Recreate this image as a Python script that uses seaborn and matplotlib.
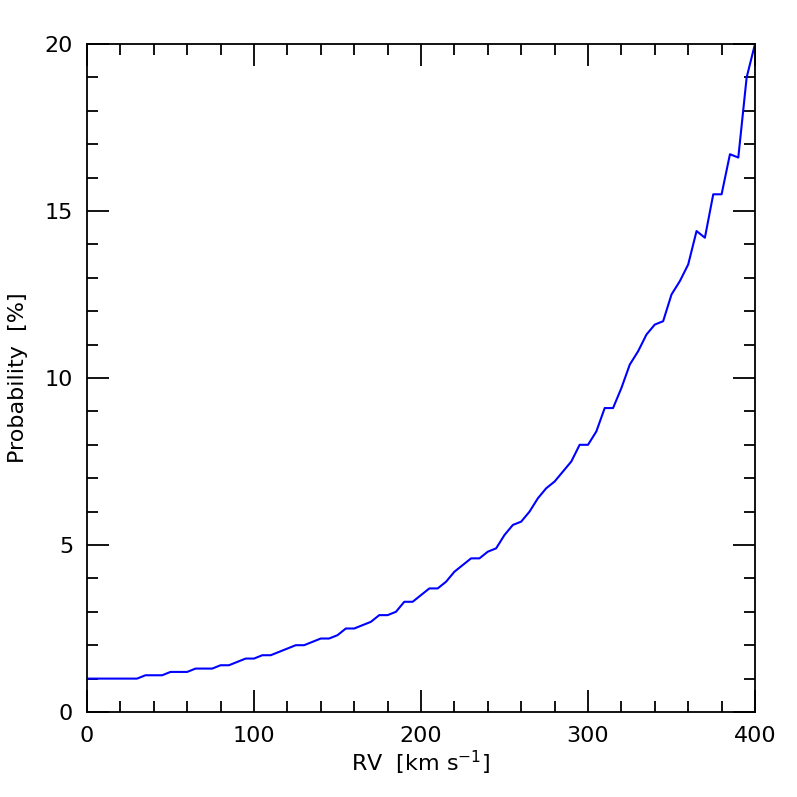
import numpy as np
import pandas as pd
import matplotlib
matplotlib.use("Agg")
import matplotlib.pyplot as plt
import seaborn as sns
from matplotlib.ticker import MultipleLocator

# RV grid in km/s (step 5) and probability in %
rv = list(range(0, 405, 5))
prob = [1.0, 1.0, 1.0, 1.0, 1.0, 1.0, 1.0, 1.1, 1.1, 1.1,   # 0-45
        1.2, 1.2, 1.2, 1.3, 1.3, 1.3, 1.4, 1.4, 1.5, 1.6,   # 50-95
        1.6, 1.7, 1.7, 1.8, 1.9, 2.0, 2.0, 2.1, 2.2, 2.2,   # 100-145
        2.3, 2.5, 2.5, 2.6, 2.7, 2.9, 2.9, 3.0, 3.3, 3.3,   # 150-195
        3.5, 3.7, 3.7, 3.9, 4.2, 4.4, 4.6, 4.6, 4.8, 4.9,   # 200-245
        5.3, 5.6, 5.7, 6.0, 6.4, 6.7, 6.9, 7.2, 7.5, 8.0,   # 250-295
        8.0, 8.4, 9.1, 9.1, 9.7, 10.4, 10.8, 11.3, 11.6, 11.7,  # 300-345
        12.5, 12.9, 13.4, 14.4, 14.2, 15.5, 15.5, 16.7, 16.6, 19.0,  # 350-395
        20.0]  # 400

df = pd.DataFrame({'rv': rv, 'prob': prob})

sns.set_style('ticks')
plt.rcParams['font.family'] = ['DejaVu Sans']

fig = plt.figure(figsize=(7.97, 7.97), dpi=100)
ax = fig.add_axes([87/797, 85/797, 668/797, 668/797])

sns.lineplot(x='rv', y='prob', data=df, color='#0000ff', linewidth=1.5, ax=ax)

ax.set_xlim(0, 400)
ax.set_ylim(0, 20)
ax.xaxis.set_major_locator(MultipleLocator(100))
ax.xaxis.set_minor_locator(MultipleLocator(20))
ax.yaxis.set_major_locator(MultipleLocator(5))
ax.yaxis.set_minor_locator(MultipleLocator(1))
ax.tick_params(which='both', direction='in', top=True, right=True, width=1.3,
               colors='black', labelsize=16)
ax.tick_params(which='major', length=16, pad=10)
ax.tick_params(which='minor', length=8)
for s in ax.spines.values():
    s.set_linewidth(1.3)
    s.set_color('black')

ax.set_xlabel('RV  [km s$^{-1}$]', fontsize=16, labelpad=2, color='black')
ax.set_ylabel('Probability  [%]', fontsize=16, labelpad=12, color='black')

plt.savefig('out.png', dpi=100)
